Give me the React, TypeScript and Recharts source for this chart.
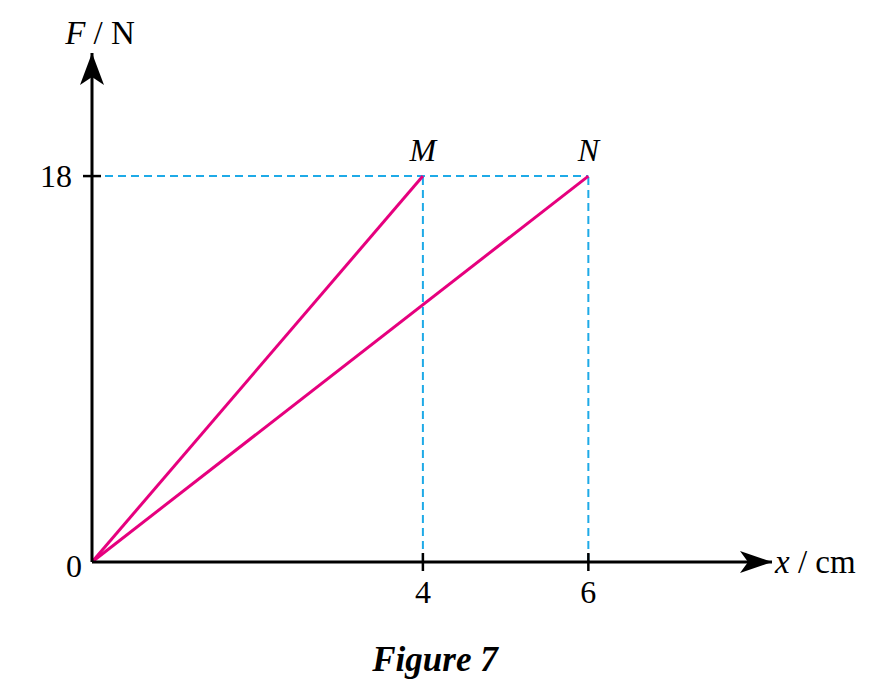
import { ComposedChart, Line, Scatter, XAxis, YAxis, ReferenceLine, LabelList } from "recharts";

// points M and N on the F–x graph
const pointNames = ["M", "N"];
const pointX = [4, 6];
const pointF = [18, 18];

const xTicks = [4, 6];
const yTicks = [0, 18];

const xMax = 8.22;
const yMax = 23.74;

const magenta = "#e6007e";
const cyan = "#1eaae7";
const serif = "'Liberation Serif', 'Times New Roman', serif";

const origin = { x: 0, F: 0 };
const lineM = [origin, { x: pointX[0], F: pointF[0] }];
const lineN = [origin, { x: pointX[1], F: pointF[1] }];
const points = pointNames.map((name, i) => ({ name, x: pointX[i], F: pointF[i] }));
const arrows = [
  { x: xMax, F: 0, dir: "right", title: "x", unit: " / cm" },
  { x: 0, F: yMax, dir: "up", title: "F", unit: " / N" }
];

function YTick(props: any) {
  const { x, y, payload } = props;
  const zero = payload.value === 0;
  return (
    <g>
      {!zero && <line x1={x - 9} x2={x + 9} y1={y} y2={y} stroke="#000" strokeWidth={2.5} />}
      <text
        x={zero ? x - 10 : x - 20}
        y={zero ? y + 4 : y}
        textAnchor="end"
        dominantBaseline="central"
        fontFamily={serif}
        fontSize={32}
        fill="#000"
      >
        {payload.value}
      </text>
    </g>
  );
}

function XTick(props: any) {
  const { x, y, payload } = props;
  return (
    <g>
      <line x1={x} x2={x} y1={y - 9} y2={y + 9} stroke="#000" strokeWidth={2.5} />
      <text x={x} y={y + 41} textAnchor="middle" fontFamily={serif} fontSize={32} fill="#000">
        {payload.value}
      </text>
    </g>
  );
}

function Arrow(props: any) {
  const { cx, cy, payload } = props;
  if (payload.dir === "right") {
    return (
      <g>
        <path d={`M${cx},${cy} L${cx - 32},${cy - 11} L${cx - 24},${cy} L${cx - 32},${cy + 11} Z`} fill="#000" />
        <text x={cx + 3} y={cy + 11} fontFamily={serif} fontSize={33} fill="#000">
          <tspan fontStyle="italic">{payload.title}</tspan>
          {payload.unit}
        </text>
      </g>
    );
  }
  return (
    <g>
      <path d={`M${cx},${cy} L${cx - 12},${cy + 32} L${cx},${cy + 24} L${cx + 12},${cy + 32} Z`} fill="#000" />
      <text x={cx + 8} y={cy - 9} textAnchor="middle" fontFamily={serif} fontSize={33} fill="#000">
        <tspan fontStyle="italic">{payload.title}</tspan>
        {payload.unit}
      </text>
    </g>
  );
}

function PointLabel(props: any) {
  const { x, y, width, value } = props;
  return (
    <text x={x + (width || 0) / 2} y={y - 11} textAnchor="middle" fontFamily={serif} fontStyle="italic" fontSize={32} fill="#000">
      {value}
    </text>
  );
}

export default function App() {
  return (
    <div style={{ position: "absolute", left: 0, top: 0, width: 887, height: 697, background: "#fff" }}>
      <ComposedChart width={887} height={697} margin={{ top: 53, right: 115, bottom: 134, left: 91 }}>
        <XAxis
          type="number"
          dataKey="x"
          domain={[0, xMax]}
          ticks={xTicks}
          height={1}
          tickSize={0}
          tickMargin={0}
          tick={<XTick />}
          tickLine={false}
          axisLine={{ stroke: "#000", strokeWidth: 3 }}
        />
        <YAxis
          type="number"
          dataKey="F"
          domain={[0, yMax]}
          ticks={yTicks}
          width={1}
          tickSize={0}
          tickMargin={0}
          tick={<YTick />}
          tickLine={false}
          axisLine={{ stroke: "#000", strokeWidth: 3 }}
        />
        <ReferenceLine
          segment={[{ x: 0, y: pointF[1] }, { x: pointX[1], y: pointF[1] }]}
          stroke={cyan}
          strokeWidth={2}
          strokeDasharray="8 5"
        />
        {points.map((p) => (
          <ReferenceLine
            key={p.name}
            segment={[{ x: p.x, y: 0 }, { x: p.x, y: p.F }]}
            stroke={cyan}
            strokeWidth={2}
            strokeDasharray="8 5"
          />
        ))}
        <Line data={lineM} dataKey="F" type="linear" stroke={magenta} strokeWidth={3} dot={false} isAnimationActive={false} />
        <Line data={lineN} dataKey="F" type="linear" stroke={magenta} strokeWidth={3} dot={false} isAnimationActive={false} />
        <Scatter data={points} dataKey="F" shape={() => <g />} isAnimationActive={false}>
          <LabelList dataKey="name" content={<PointLabel />} />
        </Scatter>
        <Scatter data={arrows} dataKey="F" shape={<Arrow />} isAnimationActive={false} />
      </ComposedChart>
      <div
        style={{
          position: "absolute",
          left: 0,
          width: 870,
          top: 640,
          textAlign: "center",
          fontFamily: serif,
          fontStyle: "italic",
          fontWeight: "bold",
          fontSize: 35
        }}
      >
        Figure 7
      </div>
    </div>
  );
}
